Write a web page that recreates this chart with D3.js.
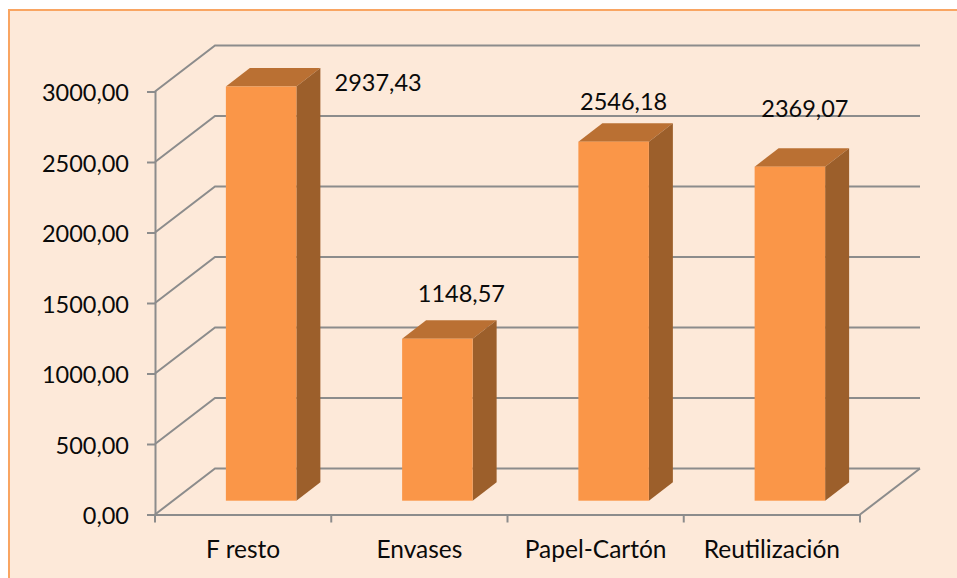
<!DOCTYPE html>
<html>
<head>
<meta charset="utf-8">
<script src="https://cdn.jsdelivr.net/npm/d3@7"></script>
<style>
	body { margin: 0; background: #fff; }
	svg { display: block; font-family: Lato, sans-serif; }
	.grid, .axis line, .axis path { stroke: #8c8c8c; stroke-width: 2; fill: none; }
	text { fill: #0a0a0a; font-size: 23.5px; }
</style>
</head>
<body>
<script>
var categories = ['F resto', 'Envases', 'Papel-Cartón', 'Reutilización'];
var values = [2937.43, 1148.57, 2546.18, 2369.07];
var yTicks = [0, 500, 1000, 1500, 2000, 2500, 3000];

// labels were moved by hand in the original chart
var labelDx = [117, 24, 10, 15];
var labelDy = [-4, -45, -40, -58];

var w = 957, h = 578;
var left = 155, right = 860, top0 = 91.5, bottom = 514.5;
// depth of the 3d box, and how far the bars sit inside it
var depthX = 60, depthY = -46;
var barDepth = 0.4, barInset = 0.3;

var fmt = function (d) { return d3.format('.2f')(d).replace('.', ','); };

var x = d3.scaleBand().domain(categories).range([left, right]).paddingInner(0.6).paddingOuter(0.3);
var y = d3.scaleLinear().domain([0, 3000]).range([bottom, top0]);

var svg = d3.select('body').append('svg').attr('width', w).attr('height', h);

svg.append('rect')
	.attr('x', 9).attr('y', 10)
	.attr('width', w + 10).attr('height', h + 10)
	.attr('fill', '#fde9d9')
	.attr('stroke', '#f9a562')
	.attr('stroke-width', 2);

// back wall and left wall lines
svg.selectAll('.grid')
	.data(yTicks)
	.enter().append('path')
	.attr('class', 'grid')
	.attr('d', function (d) {
		return d3.line()([[left, y(d)], [left + depthX, y(d) + depthY], [right + depthX, y(d) + depthY]]);
	});

// floor right edge
svg.append('path')
	.attr('class', 'grid')
	.attr('d', d3.line()([[right, bottom], [right + depthX, bottom + depthY]]));

var yAxis = d3.axisLeft(y).tickValues(yTicks).tickFormat(fmt).tickSize(8).tickPadding(18);
svg.append('g').attr('class', 'axis y')
	.attr('transform', 'translate(' + left + ',0)')
	.call(yAxis);

var xAxis = d3.axisBottom(x).tickSize(0).tickPadding(26);
svg.append('g').attr('class', 'axis x')
	.attr('transform', 'translate(0,' + bottom + ')')
	.call(xAxis);

// ticks on the category boundaries
svg.selectAll('.xtick')
	.data(d3.range(categories.length + 1))
	.enter().append('line')
	.attr('class', 'grid')
	.attr('x1', function (i) { return left + x.step() * i; })
	.attr('x2', function (i) { return left + x.step() * i; })
	.attr('y1', bottom)
	.attr('y2', bottom + 8);

var dx0 = depthX * barInset, dy0 = depthY * barInset;
var dx = depthX * barDepth, dy = depthY * barDepth;

var bar = svg.selectAll('.bar')
	.data(categories)
	.enter().append('g')
	.attr('class', 'bar')
	.attr('transform', 'translate(' + dx0 + ',' + dy0 + ')');

bar.append('path')
	.attr('fill', '#ba7033')
	.attr('d', function (d, i) {
		var a = x(d), b = a + x.bandwidth(), t = y(values[i]);
		return d3.line()([[a, t], [a + dx, t + dy], [b + dx, t + dy], [b, t]]) + 'Z';
	});

bar.append('path')
	.attr('fill', '#9c5f2b')
	.attr('d', function (d, i) {
		var b = x(d) + x.bandwidth(), t = y(values[i]);
		return d3.line()([[b, t], [b + dx, t + dy], [b + dx, bottom + dy], [b, bottom]]) + 'Z';
	});

bar.append('rect')
	.attr('fill', '#fa9648')
	.attr('x', function (d) { return x(d); })
	.attr('y', function (d, i) { return y(values[i]); })
	.attr('width', x.bandwidth())
	.attr('height', function (d, i) { return bottom - y(values[i]); });

svg.selectAll('.label')
	.data(categories)
	.enter().append('text')
	.attr('class', 'label')
	.attr('text-anchor', 'middle')
	.attr('dy', '0.35em')
	.attr('x', function (d, i) { return x(d) + x.bandwidth() / 2 + dx0 + labelDx[i]; })
	.attr('y', function (d, i) { return y(values[i]) + dy0 + labelDy[i]; })
	.text(function (d, i) { return fmt(values[i]); });

svg.selectAll('.axis text').style('font-family', 'Lato, sans-serif').attr('fill', '#0a0a0a');
svg.selectAll('.axis.y text').style('font-size', '23.5px').attr('dy', '0.4em');
svg.selectAll('.axis.x text').style('font-size', '24.5px');
</script>
</body>
</html>
